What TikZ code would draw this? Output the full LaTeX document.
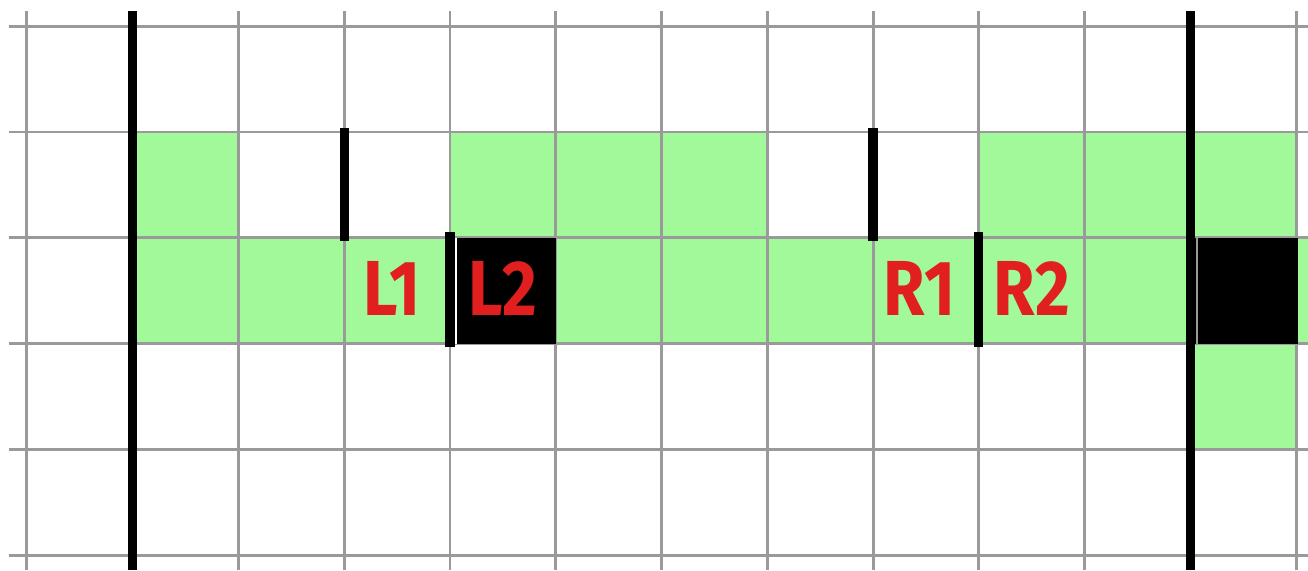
\documentclass[tikz,border=0pt]{standalone}
\usepackage{xcolor}
\usepackage{fontspec}
\setsansfont{Fira Sans}
\usepackage{tikz}
\definecolor{hucreYesil}{HTML}{A2F99A}
\definecolor{izgaraGri}{HTML}{9A9A9A}
\definecolor{etiketKirmizi}{HTML}{E11F1F}
\tikzset{
  izgara/.style={izgaraGri,line width=0.8pt},
  duvar/.style={black,line width=2.5pt},
  etiket/.style={text=etiketKirmizi,font=\sffamily\bfseries\fontsize{21}{21}\selectfont,xscale=0.86,transform shape}
}

\begin{document}
\begin{tikzpicture}
\useasboundingbox (-0.255,-0.142) rectangle (12.113,5.248);
\fill[white] (-0.255,-0.142) rectangle (12.113,5.248);
\fill[hucreYesil] (1,3) rectangle (2,4);
\fill[hucreYesil] (4,3) rectangle (7,4);
\fill[hucreYesil] (9,3) rectangle (12,4);
\fill[hucreYesil] (1,2) rectangle (12.113,3);
\fill[hucreYesil] (11,1) rectangle (12,2);
\foreach \i in {0,...,12} \draw[izgara] (\i,-0.142)--(\i,5.144);
\foreach \j in {0,...,5} \draw[izgara] (-0.17,\j)--(12.113,\j);
\fill[black] (4,2) rectangle (5,3);
\fill[black] (11,2) rectangle (12.02,3);
\draw[white,line width=0.5pt] (4.06,2)--(4.06,3);
\draw[izgaraGri,line width=0.5pt] (11.06,2)--(11.06,3);
\draw[duvar] (1,-0.142)--(1,5.144);
\draw[duvar] (11,-0.142)--(11,5.144);
\draw[duvar] (3,4.04)--(3,2.97);
\draw[duvar] (4,3.05)--(4,1.97);
\draw[duvar] (8,4.04)--(8,2.97);
\draw[duvar] (9,3.05)--(9,1.97);
\node[etiket] (L1) at (3.45,2.52) {L1};
\node[etiket] (L2) at (4.50,2.52) {L2};
\node[etiket] (R1) at (8.44,2.52) {R1};
\node[etiket] (R2) at (9.50,2.52) {R2};
\end{tikzpicture}
\end{document}
